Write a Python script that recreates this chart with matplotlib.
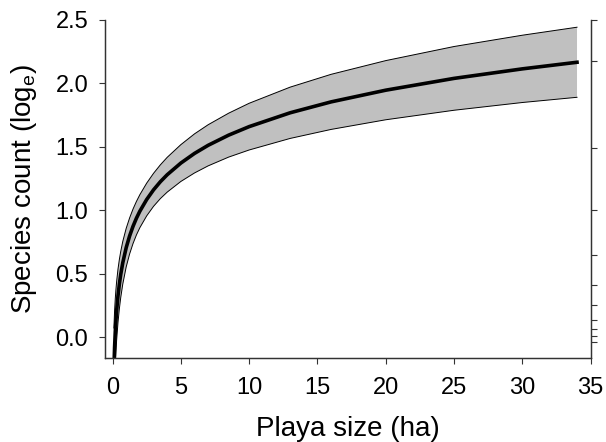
import numpy as np
import matplotlib
matplotlib.use('Agg')
import matplotlib.pyplot as plt

plt.rcParams['font.family'] = ['Liberation Sans', 'DejaVu Sans']
plt.rcParams['mathtext.default'] = 'regular'

# values (playa size in ha, log species count)
size_ha = [0.1, 0.15, 0.2, 0.25, 0.3, 0.4, 0.5, 0.6, 0.75, 1, 1.25, 1.5,
           1.75, 2, 2.5, 3, 3.5, 4, 5, 6, 7, 8.5, 10, 13, 16, 20, 25, 30, 34]
fit = [-0.246, -0.078, 0.041, 0.133, 0.209, 0.328, 0.420, 0.496, 0.588,
       0.707, 0.799, 0.875, 0.939, 0.994, 1.086, 1.162, 1.226, 1.281,
       1.373, 1.449, 1.513, 1.593, 1.660, 1.769, 1.855, 1.947, 2.040,
       2.115, 2.167]
lower = [-0.566, -0.364, -0.222, -0.112, -0.022, 0.118, 0.226, 0.314, 0.420,
         0.555, 0.657, 0.739, 0.807, 0.864, 0.957, 1.032, 1.093, 1.144,
         1.228, 1.295, 1.351, 1.420, 1.476, 1.567, 1.638, 1.714, 1.789,
         1.850, 1.891]
upper = [0.074, 0.208, 0.304, 0.378, 0.440, 0.538, 0.614, 0.677, 0.756,
         0.859, 0.941, 1.011, 1.071, 1.124, 1.215, 1.292, 1.359, 1.418,
         1.518, 1.603, 1.675, 1.766, 1.844, 1.971, 2.072, 2.180, 2.291,
         2.380, 2.443]

xticks = [0, 5, 10, 15, 20, 25, 30, 35]
yticks = [0.0, 0.5, 1.0, 1.5, 2.0, 2.5]
right_ticks = [2.5, 2.18, 1.49, 1.00, 0.652, 0.414, 0.255, 0.140, 0.066, 0.008, -0.037]

fig = plt.figure(figsize=(6.06, 4.42), dpi=100)
ax = fig.add_axes([0.1733, 0.1907, 0.8014, 0.7641])

ax.fill_between(size_ha, lower, upper, facecolor='#c0c0c0', edgecolor='none')
ax.plot(size_ha, lower, color='black', lw=0.7)
ax.plot(size_ha, upper, color='black', lw=0.7)
ax.plot(size_ha, fit, color='black', lw=2.6, solid_joinstyle='round')

ax.set_xlim(-0.55, 35)
ax.set_ylim(-0.16, 2.5)
ax.set_xticks(xticks)
ax.set_yticks(yticks)
ax.set_xticklabels([str(t) for t in xticks])
ax.set_yticklabels(['%.1f' % t for t in yticks])
ax.tick_params(direction='out', length=4, width=0.8, labelsize=17,
               color='#333333', labelcolor='black')
ax.tick_params(axis='x', pad=10)
ax.tick_params(axis='y', pad=8)
ax.set_xlabel('Playa size (ha)', fontsize=20, labelpad=12)
ax.set_ylabel('Species count (log$_e$)', fontsize=20, labelpad=12)

ax2 = ax.twinx()
ax2.set_ylim(ax.get_ylim())
ax2.set_yticks(right_ticks)
ax2.set_yticklabels([])
ax2.tick_params(direction='out', length=4, width=0.8, color='#333333')

for a in [ax, ax2]:
    a.spines['top'].set_visible(False)
    for s in ['left', 'right', 'bottom']:
        a.spines[s].set_color('#333333')
        a.spines[s].set_linewidth(0.9)

fig.savefig('out.png', dpi=100)
